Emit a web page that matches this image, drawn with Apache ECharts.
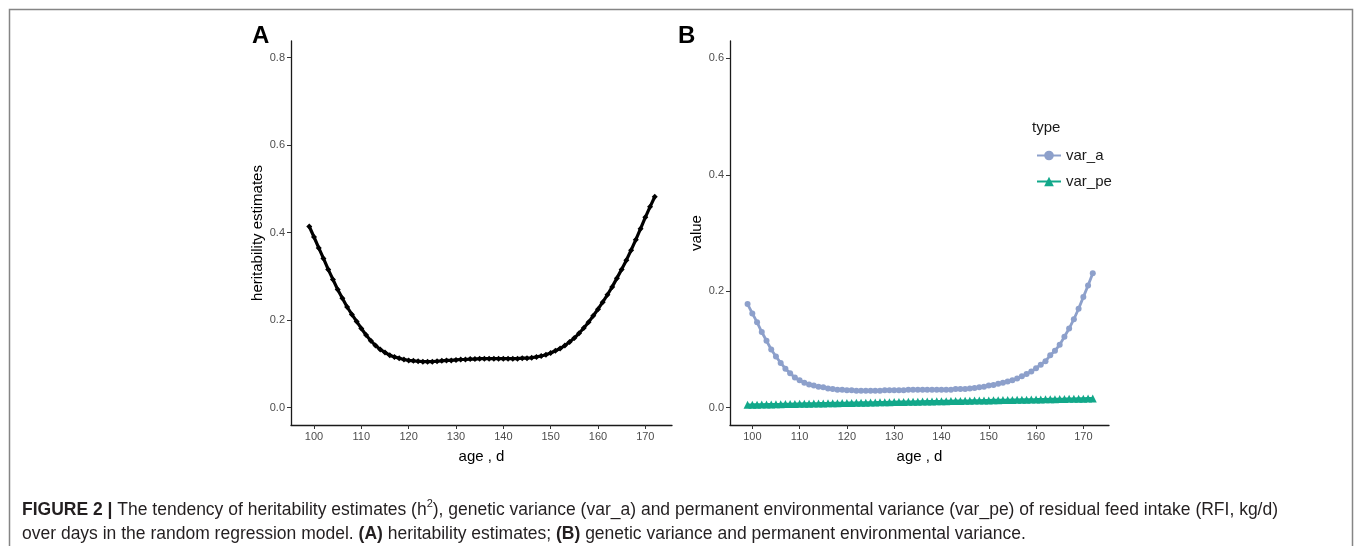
<!DOCTYPE html>
<html><head><meta charset="utf-8">
<script src="https://cdn.jsdelivr.net/npm/echarts@6/dist/echarts.min.js"></script>
<style>html,body{margin:0;padding:0;background:#fff}#c{width:1355px;height:546px}</style>
</head><body><div id="c"></div>
<script>
const ages = [99,100,101,102,103,104,105,106,107,108,109,110,111,112,113,114,115,116,117,118,119,120,121,122,123,124,125,126,127,128,129,130,131,132,133,134,135,136,137,138,139,140,141,142,143,144,145,146,147,148,149,150,151,152,153,154,155,156,157,158,159,160,161,162,163,164,165,166,167,168,169,170,171,172];
const h2 = [0.414,0.390,0.365,0.341,0.316,0.293,0.270,0.250,0.230,0.213,0.197,0.181,0.166,0.153,0.142,0.133,0.126,0.120,0.116,0.113,0.110,0.108,0.107,0.106,0.105,0.105,0.105,0.106,0.107,0.108,0.108,0.109,0.110,0.110,0.111,0.111,0.112,0.112,0.112,0.112,0.112,0.112,0.112,0.112,0.112,0.113,0.113,0.114,0.116,0.118,0.121,0.125,0.130,0.135,0.142,0.150,0.159,0.170,0.182,0.195,0.210,0.225,0.241,0.258,0.276,0.296,0.316,0.337,0.360,0.384,0.409,0.435,0.459,0.482];
const varA = [0.178,0.162,0.147,0.130,0.115,0.100,0.088,0.077,0.067,0.059,0.052,0.047,0.043,0.040,0.038,0.036,0.035,0.033,0.032,0.031,0.031,0.030,0.030,0.029,0.029,0.029,0.029,0.029,0.029,0.030,0.030,0.030,0.030,0.030,0.031,0.031,0.031,0.031,0.031,0.031,0.031,0.031,0.031,0.031,0.032,0.032,0.032,0.033,0.034,0.035,0.036,0.038,0.039,0.041,0.043,0.045,0.047,0.050,0.054,0.058,0.062,0.068,0.074,0.080,0.090,0.098,0.108,0.122,0.136,0.152,0.170,0.190,0.210,0.231];
const varPe = [0.0050,0.0051,0.0053,0.0054,0.0056,0.0057,0.0059,0.0060,0.0062,0.0063,0.0065,0.0066,0.0068,0.0069,0.0071,0.0072,0.0074,0.0075,0.0077,0.0078,0.0080,0.0081,0.0083,0.0084,0.0086,0.0087,0.0089,0.0090,0.0092,0.0093,0.0095,0.0096,0.0098,0.0099,0.0101,0.0102,0.0104,0.0105,0.0107,0.0108,0.0110,0.0111,0.0113,0.0114,0.0116,0.0117,0.0119,0.0120,0.0122,0.0123,0.0125,0.0126,0.0128,0.0129,0.0131,0.0132,0.0134,0.0135,0.0137,0.0138,0.0140,0.0141,0.0143,0.0144,0.0146,0.0147,0.0149,0.0150,0.0152,0.0153,0.0155,0.0156,0.0158,0.0159];
const xTicks = [100,110,120,130,140,150,160,170];
const yTicksA = [0,0.2,0.4,0.6,0.8];
const yTicksB = [0,0.2,0.4,0.6];
const seriesNames = ['var_a','var_pe'];

const FONT = '"Liberation Sans", Arial, sans-serif';
const pair = (ys) => ages.map((a, i) => [a, ys[i]]);

function xAx(gi, min, max) {
  return {
    type: 'value', gridIndex: gi, min: min, max: max,
    name: 'age , d', nameLocation: 'middle', nameGap: 24,
    nameTextStyle: {fontFamily: FONT, fontSize: 15, color: '#000'},
    splitLine: {show: false},
    axisLine: {show: true, onZero: false, lineStyle: {color: '#1a1a1a', width: 1.3}},
    axisTick: {show: true, length: 4, customValues: xTicks, lineStyle: {color: '#333', width: 1}},
    axisLabel: {customValues: xTicks, margin: 6, fontFamily: FONT, fontSize: 11, color: '#4d4d4d'}
  };
}
function yAx(gi, min, max, ticks, name) {
  return {
    type: 'value', gridIndex: gi, min: min, max: max,
    name: name, nameLocation: 'middle', nameGap: 25, nameRotate: 90,
    nameTextStyle: {fontFamily: FONT, fontSize: 15, color: '#000'},
    splitLine: {show: false},
    axisLine: {show: true, onZero: false, lineStyle: {color: '#1a1a1a', width: 1.3}},
    axisTick: {show: true, length: 4, customValues: ticks, lineStyle: {color: '#333', width: 1}},
    axisLabel: {customValues: ticks, margin: 6, fontFamily: FONT, fontSize: 11, color: '#4d4d4d',
      formatter: v => v.toFixed(1)}
  };
}

const chart = echarts.init(document.getElementById('c'), null, {renderer: 'canvas'});
chart.setOption({
  animation: false,
  backgroundColor: '#fff',
  grid: [
    {left: 291, top: 41, width: 381, height: 384},
    {left: 730, top: 41, width: 379, height: 384}
  ],
  xAxis: [xAx(0, 95.14, 175.64), xAx(1, 95.28, 175.43)],
  yAxis: [yAx(0, -0.0397, 0.838, yTicksA, 'heritability estimates'), yAx(1, -0.0297, 0.630, yTicksB, 'value')],
  legend: {
    data: seriesNames, orient: 'vertical', left: 1031, top: 143,
    itemWidth: 24, itemHeight: 12, itemGap: 11,
    textStyle: {fontFamily: FONT, fontSize: 15, color: '#1a1a1a'}
  },
  series: [
    {type: 'line', name: 'h2', xAxisIndex: 0, yAxisIndex: 0, data: pair(h2),
      symbol: 'diamond', symbolSize: 6, showSymbol: true,
      lineStyle: {color: '#000', width: 3.2}, itemStyle: {color: '#000'}},
    {type: 'line', name: seriesNames[0], xAxisIndex: 1, yAxisIndex: 1, data: pair(varA),
      symbol: 'circle', symbolSize: 6,
      lineStyle: {color: '#8DA0CB', width: 2.8}, itemStyle: {color: '#8DA0CB'}},
    {type: 'line', name: seriesNames[1], xAxisIndex: 1, yAxisIndex: 1, data: pair(varPe),
      symbol: 'triangle', symbolSize: 8,
      lineStyle: {color: '#12A88A', width: 2.8}, itemStyle: {color: '#12A88A'}}
  ],
  graphic: [
    {type: 'rect', shape: {x: 9.5, y: 9.5, width: 1343, height: 640},
      style: {fill: 'none', stroke: '#858585', lineWidth: 1.5}, silent: true},
    {type: 'text', left: 252, top: 24, style: {text: 'A', fontFamily: FONT, fontSize: 24, fontWeight: 'bold', fill: '#000'}},
    {type: 'text', left: 678, top: 24, style: {text: 'B', fontFamily: FONT, fontSize: 24, fontWeight: 'bold', fill: '#000'}},
    {type: 'text', left: 1032, top: 120, style: {text: 'type', fontFamily: FONT, fontSize: 15, fill: '#1a1a1a'}},
    {type: 'text', left: 22, top: 498, style: {
      text: '{b|FIGURE 2 |} The tendency of heritability estimates (h{s|2}), genetic variance (var_a) and permanent environmental variance (var_pe) of residual feed intake (RFI, kg/d)\nover days in the random regression model. {b|(A)} heritability estimates; {b|(B)} genetic variance and permanent environmental variance.',
      fontFamily: FONT, fontSize: 17.5, lineHeight: 24, fill: '#231f20',
      rich: {
        b: {fontFamily: FONT, fontSize: 17.5, fontWeight: 'bold', fill: '#231f20', lineHeight: 24},
        s: {fontFamily: FONT, fontSize: 11, fill: '#231f20', verticalAlign: 'top', lineHeight: 18}
      }
    }}
  ]
});
</script>
</body></html>
